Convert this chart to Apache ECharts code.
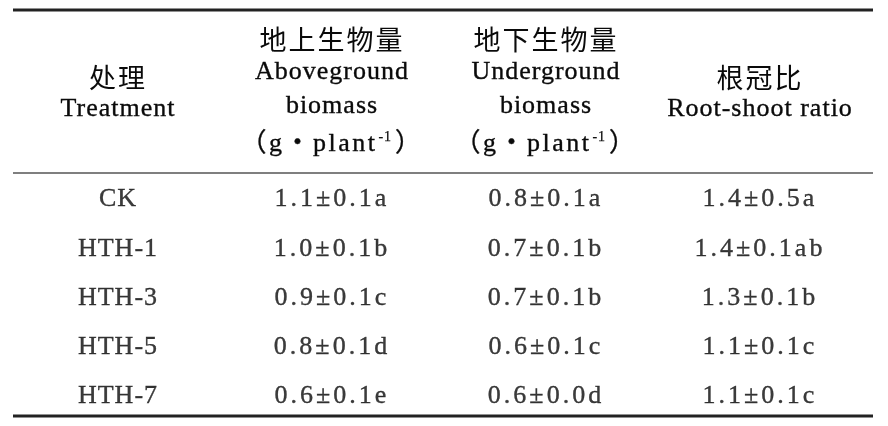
<!DOCTYPE html>
<html><head><meta charset="utf-8">
<script src="https://cdn.jsdelivr.net/npm/echarts@6/dist/echarts.min.js"></script>
<style>html,body{margin:0;padding:0;background:#fff}#c{width:888px;height:426px}</style>
</head><body><div id="c"></div>
<script>
// ---- table content ----
const headerCn = ['处理', '地上生物量', '地下生物量', '根冠比'];
const headerEn = [['Treatment'], ['Aboveground', 'biomass'], ['Underground', 'biomass'], ['Root-shoot ratio']];
const headerUnit = [null, ['（g・plant', '-1', '）'], ['（g・plant', '-1', '）'], null];
const treatments = ['CK', 'HTH-1', 'HTH-3', 'HTH-5', 'HTH-7'];
const aboveMean = [1.1, 1.0, 0.9, 0.8, 0.6];
const aboveSd = [0.1, 0.1, 0.1, 0.1, 0.1];
const aboveSig = ['a', 'b', 'c', 'd', 'e'];
const underMean = [0.8, 0.7, 0.7, 0.6, 0.6];
const underSd = [0.1, 0.1, 0.1, 0.1, 0.0];
const underSig = ['a', 'b', 'b', 'c', 'd'];
const ratioMean = [1.4, 1.4, 1.3, 1.1, 1.1];
const ratioSd = [0.5, 0.1, 0.1, 0.1, 0.1];
const ratioSig = ['a', 'ab', 'b', 'c', 'c'];

// letter tracking like the typeset original: a "trkN" entry in a font stack sets N px spacing
(function () {
  const proto = CanvasRenderingContext2D.prototype;
  const d = Object.getOwnPropertyDescriptor(proto, 'font');
  if (d && d.set && ('letterSpacing' in proto)) {
    Object.defineProperty(proto, 'font', {
      configurable: true, enumerable: d.enumerable,
      get() { return d.get.call(this); },
      set(v) {
        d.set.call(this, v);
        const m = /trk(\d+(?:p\d+)?)/.exec(v);
        this.letterSpacing = m ? m[1].replace('p', '.') + 'px' : '0px';
      }
    });
  }
})();

const HEAD_LATIN = "'Liberation Serif', trk1, 'Noto Sans CJK SC', serif";
const UNIT_LATIN = "'Liberation Serif', trk2p5, 'Noto Sans CJK SC', serif";
const NAME_LATIN = "'Liberation Serif', trk1, serif";
const NUM_LATIN = "'Liberation Serif', trk3, serif";
const CJK = "'Noto Sans CJK SC', trk2, sans-serif";
const INK = '#0a0a0a';
const BOLDEN = { textBorderColor: INK, textBorderWidth: 0.35 };

function fmt(m, s, g) { return m.map((v, i) => v.toFixed(1) + '±' + s[i].toFixed(1) + g[i]); }
const bodyColumns = [
  treatments,
  fmt(aboveMean, aboveSd, aboveSig),
  fmt(underMean, underSd, underSig),
  fmt(ratioMean, ratioSd, ratioSig)
];

const cells = [];
bodyColumns.forEach((col, c) => col.forEach((txt, r) => cells.push({
  value: [c, r, txt],
  label: { fontFamily: c === 0 ? NAME_LATIN : NUM_LATIN }
})));

function headerText(value, idx) {
  const unit = headerUnit[idx];
  if (!unit) {
    return '{cn2|' + headerCn[idx] + '}\n' + headerEn[idx].map(t => '{en2|' + t + '}').join('\n');
  }
  return '{cn|' + headerCn[idx] + '}\n' + headerEn[idx].map(t => '{en|' + t + '}').join('\n') +
    '\n{u|' + unit[0] + '}{sup|' + unit[1] + '}{u|' + unit[2] + '}';
}

const chart = echarts.init(document.getElementById('c'), null, { renderer: 'canvas' });
chart.setOption({
  animation: false,
  backgroundColor: '#fff',
  grid: { left: 11, right: 21, top: 175, bottom: 5, containLabel: false },
  xAxis: {
    type: 'category', position: 'top', data: headerCn,
    axisLine: { show: false }, axisTick: { show: false }, splitLine: { show: false },
    axisLabel: {
      interval: 0, margin: 80.5, verticalAlign: 'middle', align: 'center',
      formatter: headerText, color: INK,
      rich: {
        cn: { fontFamily: CJK, fontSize: 27, lineHeight: 32, color: INK },
        cn2: { fontFamily: CJK, fontSize: 27, lineHeight: 29, color: INK },
        en: Object.assign({ fontFamily: HEAD_LATIN, fontSize: 26, lineHeight: 34, color: INK }, BOLDEN),
        en2: Object.assign({ fontFamily: HEAD_LATIN, fontSize: 26, lineHeight: 33, color: INK }, BOLDEN),
        u: Object.assign({ fontFamily: UNIT_LATIN, fontSize: 26, lineHeight: 42, color: INK }, BOLDEN),
        sup: Object.assign({ fontFamily: HEAD_LATIN, fontSize: 14, lineHeight: 14, verticalAlign: 'top', padding: [6, 3, 0, 1], color: INK }, BOLDEN, { textBorderWidth: 0.25 })
      }
    }
  },
  yAxis: {
    type: 'category', data: treatments, inverse: true,
    axisLine: { show: false }, axisTick: { show: false }, axisLabel: { show: false }, splitLine: { show: false }
  },
  series: [{
    type: 'scatter', silent: true, symbolSize: 0,
    itemStyle: { color: 'transparent' },
    data: cells,
    label: Object.assign({
      show: true, position: 'inside', align: 'center', verticalAlign: 'middle',
      formatter: p => p.value[2],
      fontFamily: NUM_LATIN, fontSize: 26, color: INK
    }, BOLDEN)
  }],
  graphic: [
    { type: 'line', silent: true, shape: { x1: 13, y1: 10, x2: 873, y2: 10 }, style: { stroke: '#222', lineWidth: 3 } },
    { type: 'line', silent: true, shape: { x1: 13, y1: 173, x2: 873, y2: 173 }, style: { stroke: '#555', lineWidth: 1.5 } },
    { type: 'line', silent: true, shape: { x1: 13, y1: 416, x2: 873, y2: 416 }, style: { stroke: '#222', lineWidth: 3 } }
  ]
});
</script>
</body></html>
